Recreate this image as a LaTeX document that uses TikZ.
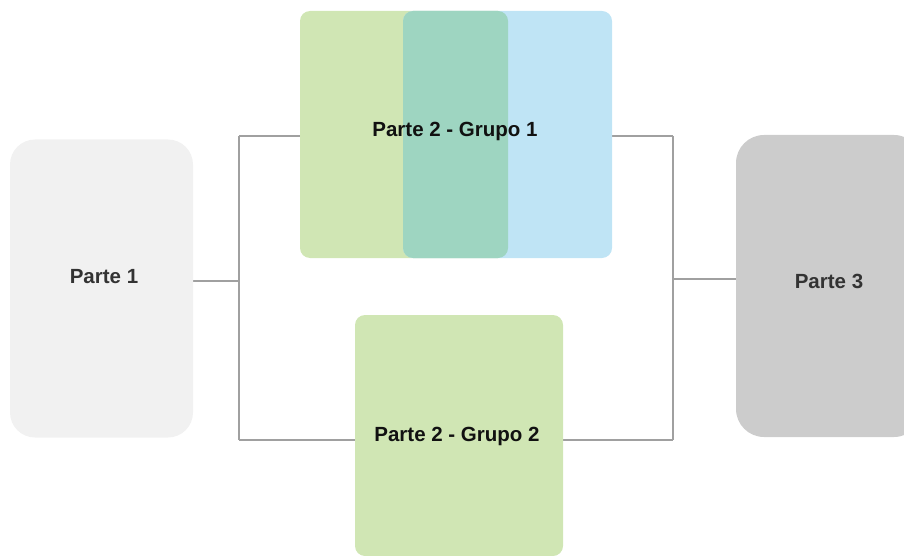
\documentclass[tikz,border=0pt]{standalone}
\usepackage{fontspec}
\setmainfont{Liberation Sans}
\usetikzlibrary{backgrounds}
\definecolor{partOne}{HTML}{F1F1F1}
\definecolor{partThree}{HTML}{CCCCCC}
\definecolor{grpGreen}{HTML}{D0E6B4}
\definecolor{grpBlue}{HTML}{BFE4F5}
\definecolor{grpTeal}{HTML}{9ED5C1}
\definecolor{wire}{HTML}{A0A0A0}
\definecolor{labelDark}{HTML}{333333}
\definecolor{labelBlack}{HTML}{111111}
\tikzset{
  panel/.style={draw=none, inner sep=0pt, outer sep=0pt},
  conn/.style={draw=wire, line width=1.2pt},
  lbl/.style={inner sep=0pt, font=\fontsize{20.5}{24}\selectfont\bfseries},
}
\begin{document}
\begin{tikzpicture}[x=1pt, y=-1pt]
  \useasboundingbox (0,0) rectangle (904,556);

  % Parte 1
  \node[panel, fill=partOne, rounded corners=25pt, minimum width=183pt, minimum height=298pt]
    (p1) at (101.5,288.5) {};
  \node[lbl, text=labelDark] (p1t) at (104,277) {Parte 1};

  % Parte 2 - Grupo 1: two overlapping panels
  \node[panel, fill=grpGreen, rounded corners=10pt, minimum width=208pt, minimum height=247pt]
    (g1a) at (404,134.5) {};
  \node[panel, fill=grpBlue, rounded corners=10pt, minimum width=209pt, minimum height=247pt]
    (g1b) at (507.5,134.5) {};
  \begin{scope}
    \clip[rounded corners=10pt] (g1a.north west) rectangle (g1a.south east);
    \fill[grpTeal, rounded corners=10pt] (g1b.north west) rectangle (g1b.south east);
  \end{scope}
  \node[lbl, text=labelBlack] (g1t) at (455,131.5) {Parte 2 - Grupo 1};

  % Parte 2 - Grupo 2
  \node[panel, fill=grpGreen, rounded corners=10pt, minimum width=208pt, minimum height=241pt]
    (g2) at (459,435.5) {};
  \node[lbl, text=labelBlack] (g2t) at (457,436.5) {Parte 2 - Grupo 2};

  % Parte 3
  \node[panel, fill=partThree, rounded corners=28pt, minimum width=186pt, minimum height=302pt]
    (p3) at (829,286) {};
  \node[lbl, text=labelDark] (p3t) at (829,281) {Parte 3};

  % junction points of the connectors
  \coordinate (jl)  at (239,281);
  \coordinate (jlt) at (239,136);
  \coordinate (jlb) at (239,440);
  \coordinate (jr)  at (673,279);
  \coordinate (jrt) at (673,136);
  \coordinate (jrb) at (673,440);

  \begin{scope}[on background layer]
    \draw[conn] (p1.east |- jl) -- (jl);
    \draw[conn] (jlt) -- (jlb);
    \draw[conn] (jlt) -- (jlt -| g1a.west);
    \draw[conn] (jlt -| g1b.east) -- (jrt);
    \draw[conn] (jlb) -- (jlb -| g2.west);
    \draw[conn] (jlb -| g2.east) -- (jrb);
    \draw[conn] (jrt) -- (jrb);
    \draw[conn] (jr) -- (jr -| p3.west);
  \end{scope}
\end{tikzpicture}
\end{document}
